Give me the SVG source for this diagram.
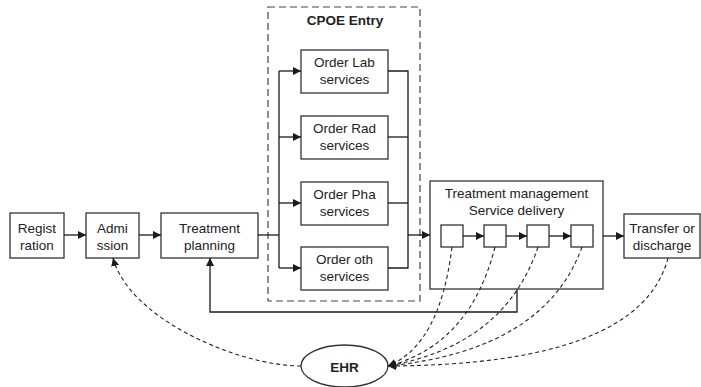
<svg xmlns="http://www.w3.org/2000/svg" width="701" height="387" viewBox="0 0 701 387">
<defs>
<marker id="ah" viewBox="0 0 10 10" refX="10" refY="5" markerWidth="8" markerHeight="8" markerUnits="userSpaceOnUse" orient="auto">
<path d="M0,0 L10,5 L0,10 z" fill="#1a1a1a"/>
</marker>
<style>
.box{fill:#fff;stroke:#333;stroke-width:1.3}
.t{font-family:"Liberation Sans",Arial,sans-serif;font-size:13.5px;fill:#222;text-anchor:middle}
.b{font-weight:bold}
.ln{fill:none;stroke:#1a1a1a;stroke-width:1.3}
.dl{fill:none;stroke:#222;stroke-width:1.1;stroke-dasharray:4,3}
</style>
</defs>
<rect width="701" height="387" fill="#fff"/>

<g id="cpoe">
<rect x="268" y="7" width="152" height="294" fill="none" stroke="#444" stroke-width="1.2" stroke-dasharray="7,4"/>
<text class="t b" x="345" y="25" font-size="12.5">CPOE Entry</text>
</g>

<g id="registration">
<rect class="box" x="10" y="213" width="54" height="45"/>
<text class="t" x="37" y="233">Regist</text>
<text class="t" x="37" y="250">ration</text>
</g>
<g id="admission">
<rect class="box" x="86" y="213" width="53" height="45"/>
<text class="t" x="112.5" y="233">Admi</text>
<text class="t" x="112.5" y="250">ssion</text>
</g>
<g id="treatment-planning">
<rect class="box" x="161" y="213" width="97" height="45"/>
<text class="t" x="209.5" y="233">Treatment</text>
<text class="t" x="209.5" y="250">planning</text>
</g>
<g id="order-lab">
<rect class="box" x="301" y="50" width="87" height="43"/>
<text class="t" x="344.5" y="67">Order Lab</text>
<text class="t" x="344.5" y="84">services</text>
</g>
<g id="order-rad">
<rect class="box" x="301" y="116" width="87" height="43"/>
<text class="t" x="344.5" y="133">Order Rad</text>
<text class="t" x="344.5" y="150">services</text>
</g>
<g id="order-pha">
<rect class="box" x="301" y="182" width="87" height="43"/>
<text class="t" x="344.5" y="199">Order Pha</text>
<text class="t" x="344.5" y="216">services</text>
</g>
<g id="order-oth">
<rect class="box" x="301" y="247" width="87" height="43"/>
<text class="t" x="344.5" y="264">Order oth</text>
<text class="t" x="344.5" y="281">services</text>
</g>
<g id="treatment-management">
<rect class="box" x="430" y="181" width="173" height="108"/>
<text class="t" x="516.5" y="198">Treatment management</text>
<text class="t" x="516.5" y="215">Service delivery</text>
</g>
<g id="step1"><rect class="box" x="441" y="225" width="22" height="22"/></g>
<g id="step2"><rect class="box" x="484" y="225" width="22" height="22"/></g>
<g id="step3"><rect class="box" x="527" y="225" width="22" height="22"/></g>
<g id="step4"><rect class="box" x="571" y="225" width="22" height="22"/></g>
<g id="transfer">
<rect class="box" x="624" y="214" width="76" height="44"/>
<text class="t" x="662" y="233">Transfer or</text>
<text class="t" x="662" y="250">discharge</text>
</g>
<g id="ehr">
<ellipse cx="344.5" cy="366" rx="43.5" ry="21" fill="#fff" stroke="#333" stroke-width="1.3"/>
<text class="t b" x="344.5" y="372" font-size="15">EHR</text>
</g>

<g id="connectors">
<line class="ln" x1="64" y1="235" x2="86" y2="235" marker-end="url(#ah)"/>
<line class="ln" x1="139" y1="235" x2="161" y2="235" marker-end="url(#ah)"/>
<polyline class="ln" points="258,235 279,235"/>
<polyline class="ln" points="279,71 279,268"/>
<line class="ln" x1="279" y1="71" x2="301" y2="71" marker-end="url(#ah)"/>
<line class="ln" x1="279" y1="137" x2="301" y2="137" marker-end="url(#ah)"/>
<line class="ln" x1="279" y1="203" x2="301" y2="203" marker-end="url(#ah)"/>
<line class="ln" x1="279" y1="268" x2="301" y2="268" marker-end="url(#ah)"/>
<polyline class="ln" points="388,71 408,71 408,268 388,268"/>
<line class="ln" x1="388" y1="137" x2="408" y2="137"/>
<line class="ln" x1="388" y1="203" x2="408" y2="203"/>
<line class="ln" x1="408" y1="235" x2="430" y2="235" marker-end="url(#ah)"/>
<line class="ln" x1="463" y1="236" x2="484" y2="236" marker-end="url(#ah)"/>
<line class="ln" x1="506" y1="236" x2="527" y2="236" marker-end="url(#ah)"/>
<line class="ln" x1="549" y1="236" x2="571" y2="236" marker-end="url(#ah)"/>
<line class="ln" x1="603" y1="236" x2="624" y2="236" marker-end="url(#ah)"/>
<polyline class="ln" points="517,289 517,312 210,312 210,258" marker-end="url(#ah)"/>
<path class="dl" d="M452,247 Q440,345 388,366" marker-end="url(#ah)"/>
<path class="dl" d="M495,247 Q470,345 388,366" marker-end="url(#ah)"/>
<path class="dl" d="M538,247 Q505,345 388,366" marker-end="url(#ah)"/>
<path class="dl" d="M582,247 Q545,350 388,366" marker-end="url(#ah)"/>
<path class="dl" d="M668,258 Q640,365 388,366" marker-end="url(#ah)"/>
<path class="dl" d="M301,366 C240,366 130,320 113,258" marker-end="url(#ah)"/>
</g>
</svg>
